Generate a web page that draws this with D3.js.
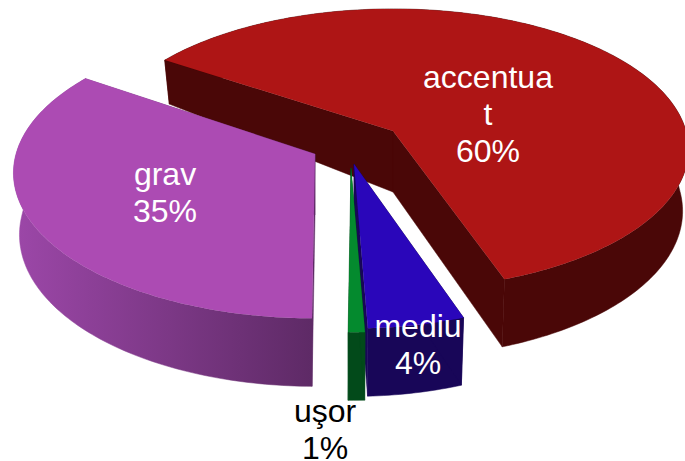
<!DOCTYPE html>
<html>
<head>
<meta charset="utf-8">
<script src="https://cdn.jsdelivr.net/npm/d3@7/dist/d3.min.js"></script>
<style>html,body{margin:0;padding:0;background:#fff}svg{display:block}</style>
</head>
<body>
<script>
// data
const categories = ["accentuat", "mediu", "uşor", "grav"];
const values = [60, 4, 1, 35];
const labelLines = [["accentua", "t"], ["mediu"], ["uşor"], ["grav"]];

// style
const topColors = ["#AE1515", "#2A06BA", "#048A2E", "#AC4BB3"];
const wallColors = ["#4A0707", "#180658", "#024A1A", "url(#purpleWall)"];
const textColors = ["#fff", "#fff", "#000", "#fff"];

// layout per slice
const originX = [393, 354, 351, 315];
const originY = [131, 164, 168, 154];
const radiusX = [293, 288, 290, 299];
const radiusY = [138, 143, 143, 143];
const labelX = [488, 418, 325, 165];
const labelY = [88, 337, 422, 185];
const drawOrder = [0, 3, 1, 2];

const width = 685, height = 461, persp = 0.13, inset = 0.98, fontSize = 32, lineGap = 37;

const svg = d3.select("body").append("svg").attr("width", width).attr("height", height);
const grad = svg.append("defs").append("linearGradient").attr("id", "purpleWall")
  .attr("gradientUnits", "userSpaceOnUse").attr("x1", 15).attr("x2", 312).attr("y1", 0).attr("y2", 0);
grad.append("stop").attr("offset", 0).attr("stop-color", "#9C47A8");
grad.append("stop").attr("offset", 1).attr("stop-color", "#5E2A66");

const deg = Math.PI / 180;
const pie = d3.pie().sort(null).startAngle(306 * deg).endAngle(666 * deg);
const arcs = pie(values);

// the drawing's perspective bends the angles slightly
const angleWarp = d3.scaleLinear().domain([306, 522, 536.4, 540, 666]).range([303.4, 520.5, 537.6, 540.5, 664.5]);
const wallDepth = d3.scaleLinear().domain([-1, 0, 0.55, 1]).range([68, 61, 44, 40]);

function ground(i, u, v, lower) {
  const w = 1 / (1 + persp * v);
  const px = radiusX[i] * u * w * (lower ? inset : 1);
  const py = -radiusY[i] * v * w + (lower ? wallDepth(v) : 0);
  return [originX[i] + px, originY[i] + py];
}
function rim(i, d, lower) {
  const a0 = angleWarp(d.startAngle / deg), a1 = angleWarp(d.endAngle / deg);
  const n = Math.max(2, Math.ceil(a1 - a0));
  return d3.range(n + 1).map(k => {
    const a = (a0 + (a1 - a0) * k / n) * deg;
    return ground(i, Math.sin(a), Math.cos(a), lower);
  });
}
const line = d3.line().curve(d3.curveLinearClosed);

drawOrder.forEach(i => {
  const d = arcs[i], g = svg.append("g");
  const upper = rim(i, d, false), lower = rim(i, d, true);
  const apexTop = ground(i, 0, 0, false), apexLow = ground(i, 0, 0, true);
  const last = upper.length - 1;
  const walls = [
    upper.concat(lower.slice().reverse()),
    [apexTop, upper[0], lower[0], apexLow],
    [apexTop, upper[last], lower[last], apexLow]
  ];
  g.selectAll("path.wall").data(walls).join("path").attr("class", "wall")
    .attr("d", line).attr("fill", wallColors[i])
    .attr("stroke", wallColors[i]).attr("stroke-width", 0.5);
  g.append("path").attr("d", line([apexTop].concat(upper))).attr("fill", topColors[i]);
});

categories.forEach((c, i) => {
  const lines = labelLines[i].concat([values[i] + "%"]);
  const t = svg.append("text").attr("text-anchor", "middle")
    .attr("font-family", "'Liberation Sans', Arial, sans-serif")
    .attr("font-size", fontSize).attr("fill", textColors[i]);
  lines.forEach((s, k) => t.append("tspan").attr("x", labelX[i]).attr("y", labelY[i] + k * lineGap).text(s));
});
</script>
</body>
</html>
